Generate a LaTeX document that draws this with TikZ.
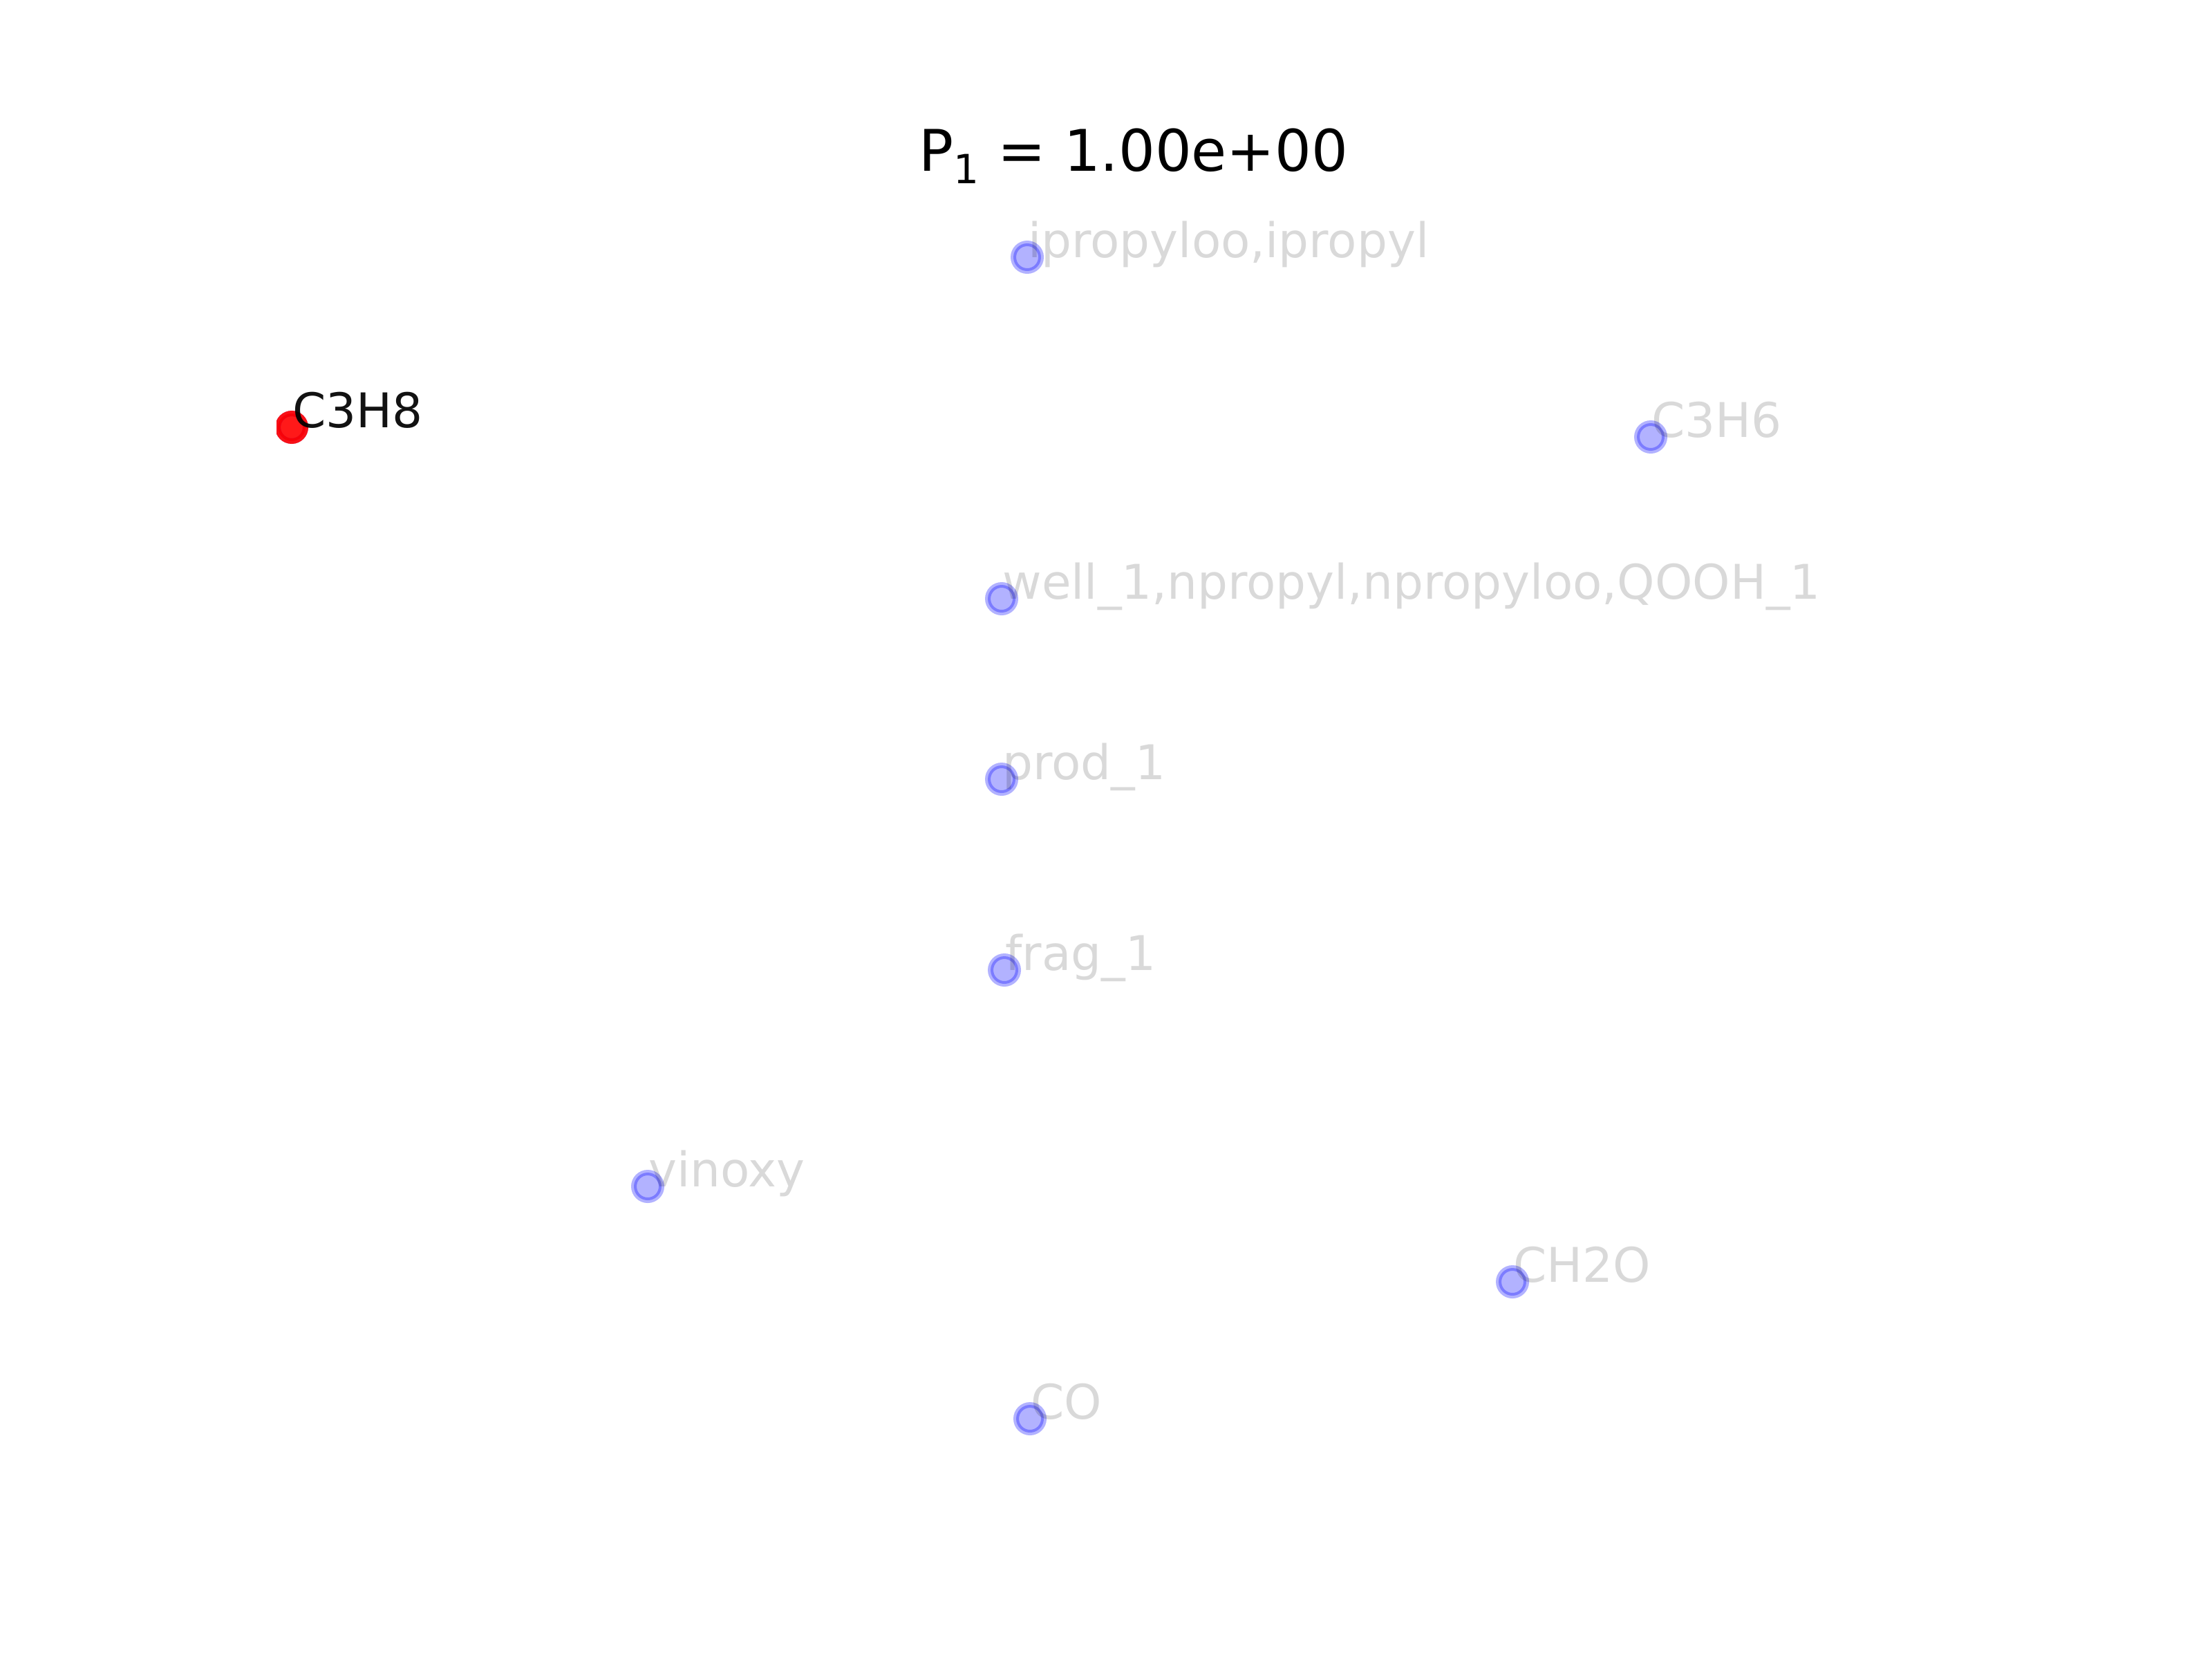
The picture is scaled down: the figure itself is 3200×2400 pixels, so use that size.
\documentclass[tikz,border=0pt]{standalone}
\usepackage{fontspec}
\setmainfont{DejaVu Sans}
\usetikzlibrary{positioning}
\tikzset{
  species/.style={circle,inner sep=0pt,minimum size=5.76bp,
                  fill=blue,fill opacity=0.3,
                  postaction={draw=blue,draw opacity=0.3,line width=1.152bp}},
  source/.style={species,fill=red,fill opacity=0.9,
                 postaction={draw=red,draw opacity=0.9,line width=1.152bp}},
  faded/.style={anchor=base west,inner sep=0pt,text=black,text opacity=0.15,
                font=\fontsize{10}{12}\selectfont},
  active/.style={faded,text opacity=0.93},
}

\begin{document}
\begin{tikzpicture}[x=0.144bp,y=-0.144bp]
    \useasboundingbox (0,0) rectangle (3200,2400);

    % Title
    \node[anchor=base,inner sep=0pt,font=\fontsize{12}{14}\selectfont] (title) at (1640,247)
      {P\raisebox{-0.22em}{\fontsize{8.4}{10}\selectfont 1} = 1.00e+00};

    % Species (clipped to the axes)
    \begin{scope}
      \clip (400,288) rectangle (2880,2136);
      \node[source]  (c3h8)   at (422,618) {};
      \node[species] (iprop)  at (1486,372) {};
      \node[species] (c3h6)   at (2388,632) {};
      \node[species] (well)   at (1449,866) {};
      \node[species] (prod)   at (1449,1127) {};
      \node[species] (frag)   at (1453,1403) {};
      \node[species] (vinoxy) at (937,1716) {};
      \node[species] (chtwoo) at (2188,1854) {};
      \node[species] (co)     at (1490,2052) {};
    \end{scope}

    % Labels
    \node[active] (c3h8-lbl)   at (c3h8.center)   {C3H8};
    \node[faded]  (iprop-lbl)  at (iprop.center)  {ipropyloo,ipropyl};
    \node[faded]  (c3h6-lbl)   at (c3h6.center)   {C3H6};
    \node[faded]  (well-lbl)   at (well.center)   {well\_1,npropyl,npropyloo,QOOH\_1};
    \node[faded]  (prod-lbl)   at (prod.center)   {prod\_1};
    \node[faded]  (frag-lbl)   at (frag.center)   {frag\_1};
    \node[faded]  (vinoxy-lbl) at (vinoxy.center) {vinoxy};
    \node[faded]  (chtwoo-lbl) at (chtwoo.center) {CH2O};
    \node[faded]  (co-lbl)     at (co.center)     {CO};

\end{tikzpicture}
\end{document}
